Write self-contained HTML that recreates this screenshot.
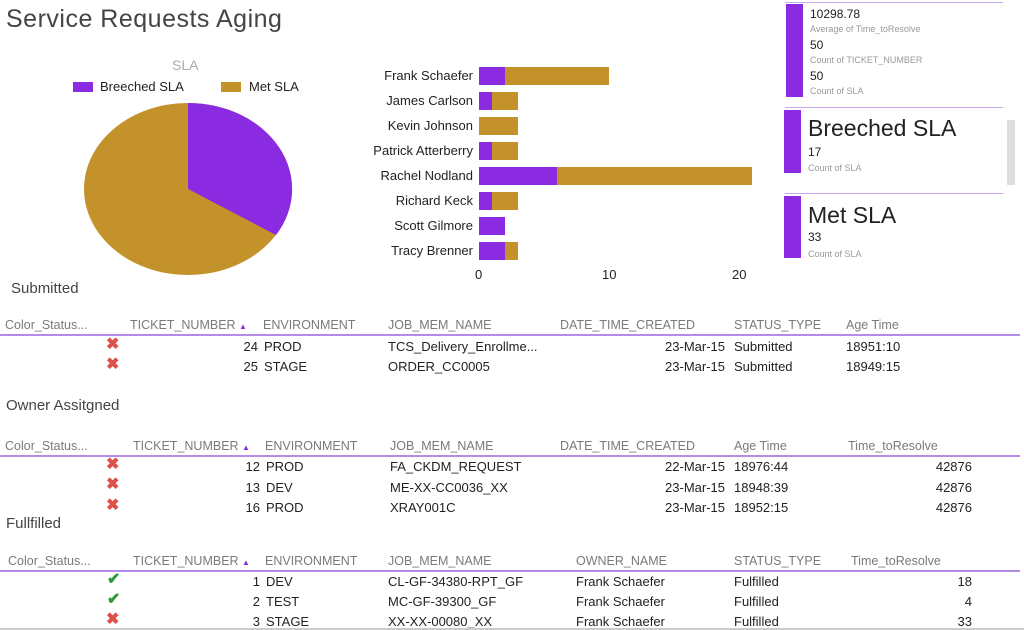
<!DOCTYPE html>
<html><head><style>
body{margin:0;width:1024px;height:630px;background:#fff;overflow:hidden;position:relative;font-family:"Liberation Sans",sans-serif;color:#222}
.a{position:absolute;white-space:nowrap;font-size:13px;line-height:14px}
.h{color:#7a7a7a;font-size:12.5px}
.r{text-align:right}
.x{color:#e0504a;font-weight:bold;font-size:16px}
.c{color:#2a9a3a;font-weight:bold;font-size:16px}
.ln{position:absolute;left:0;width:1020px;height:2px;background:#b48be6}
.bl{position:absolute;background:#8a2be2}
.s{color:#999;font-size:9px}
</style></head><body>
<div class="a" style="left:6px;top:5px;font-size:25px;line-height:28px;color:#444;letter-spacing:0.5px">Service Requests Aging</div>
<div class="a" style="left:172px;top:58px;color:#aaa;font-size:14px">SLA</div>
<div style="position:absolute;left:73px;top:82px;width:20px;height:10px;background:#8a2be2"></div>
<div class="a" style="left:100px;top:80px">Breeched SLA</div>
<div style="position:absolute;left:221px;top:82px;width:20px;height:10px;background:#c4922a"></div>
<div class="a" style="left:249px;top:80px">Met SLA</div>
<svg style="position:absolute;left:0;top:0" width="1024" height="630">
<ellipse cx="188" cy="189" rx="104" ry="86" fill="#c4922a"/>
<path d="M188 189 L188 103 A104 86 0 0 1 276 235 Z" fill="#8a2be2"/>
<g>
<rect x="479" y="67" width="26" height="18" fill="#8a2be2"/><rect x="505" y="67" width="104" height="18" fill="#c4922a"/>
<rect x="479" y="92" width="13" height="18" fill="#8a2be2"/><rect x="492" y="92" width="26" height="18" fill="#c4922a"/>
<rect x="479" y="117" width="39" height="18" fill="#c4922a"/>
<rect x="479" y="142" width="13" height="18" fill="#8a2be2"/><rect x="492" y="142" width="26" height="18" fill="#c4922a"/>
<rect x="479" y="167" width="78" height="18" fill="#8a2be2"/><rect x="557" y="167" width="195" height="18" fill="#c4922a"/>
<rect x="479" y="192" width="13" height="18" fill="#8a2be2"/><rect x="492" y="192" width="26" height="18" fill="#c4922a"/>
<rect x="479" y="217" width="26" height="18" fill="#8a2be2"/>
<rect x="479" y="242" width="26" height="18" fill="#8a2be2"/><rect x="505" y="242" width="13" height="18" fill="#c4922a"/>
</g>
</svg>
<div class="a r" style="right:551px;top:69px">Frank Schaefer</div>
<div class="a r" style="right:551px;top:94px">James Carlson</div>
<div class="a r" style="right:551px;top:119px">Kevin Johnson</div>
<div class="a r" style="right:551px;top:144px">Patrick Atterberry</div>
<div class="a r" style="right:551px;top:169px">Rachel Nodland</div>
<div class="a r" style="right:551px;top:194px">Richard Keck</div>
<div class="a r" style="right:551px;top:219px">Scott Gilmore</div>
<div class="a r" style="right:551px;top:244px">Tracy Brenner</div>
<div class="a" style="left:475px;top:268px">0</div>
<div class="a" style="left:602px;top:268px">10</div>
<div class="a" style="left:732px;top:268px">20</div>

<div style="position:absolute;left:785px;top:2px;width:218px;height:1px;background:#c8a8ee"></div>
<div class="bl" style="left:786px;top:4px;width:17px;height:93px"></div>
<div class="a" style="left:810px;top:7px;font-size:12px">10298.78</div>
<div class="a s" style="left:810px;top:22px">Average of Time_toResolve</div>
<div class="a" style="left:810px;top:38px;font-size:12px">50</div>
<div class="a s" style="left:810px;top:53px">Count of TICKET_NUMBER</div>
<div class="a" style="left:810px;top:69px;font-size:12px">50</div>
<div class="a s" style="left:810px;top:84px">Count of SLA</div>
<div style="position:absolute;left:785px;top:107px;width:218px;height:1px;background:#c8a8ee"></div>
<div class="bl" style="left:784px;top:110px;width:17px;height:63px"></div>
<div class="a" style="left:808px;top:115px;font-size:23px;line-height:26px">Breeched SLA</div>
<div class="a" style="left:808px;top:145px;font-size:12px">17</div>
<div class="a s" style="left:808px;top:161px">Count of SLA</div>
<div style="position:absolute;left:785px;top:193px;width:218px;height:1px;background:#c8a8ee"></div>
<div class="bl" style="left:784px;top:196px;width:17px;height:62px"></div>
<div class="a" style="left:808px;top:202px;font-size:23px;line-height:26px">Met SLA</div>
<div class="a" style="left:808px;top:230px;font-size:12px">33</div>
<div class="a s" style="left:808px;top:247px">Count of SLA</div>
<div style="position:absolute;left:1007px;top:120px;width:8px;height:65px;background:#ddd"></div>

<div class="a" style="left:11px;top:281px;font-size:15px;line-height:16px;color:#444">Submitted</div>
<div class="a h" style="left:5px;top:318px">Color_Status...</div>
<div class="a h" style="left:130px;top:318px">TICKET_NUMBER <span style="color:#8a2be2;font-size:8px">▲</span></div>
<div class="a h" style="left:263px;top:318px">ENVIRONMENT</div>
<div class="a h" style="left:388px;top:318px">JOB_MEM_NAME</div>
<div class="a h" style="left:560px;top:318px">DATE_TIME_CREATED</div>
<div class="a h" style="left:734px;top:318px">STATUS_TYPE</div>
<div class="a h" style="left:846px;top:318px">Age Time</div>
<div class="ln" style="top:334px"></div>
<div class="a x" style="left:106px;top:338px">✖</div><div class="a r" style="right:766px;top:340px">24</div><div class="a" style="left:264px;top:340px">PROD</div><div class="a" style="left:388px;top:340px">TCS_Delivery_Enrollme...</div><div class="a r" style="right:299px;top:340px">23-Mar-15</div><div class="a" style="left:734px;top:340px">Submitted</div><div class="a" style="left:846px;top:340px">18951:10</div>
<div class="a x" style="left:106px;top:358px">✖</div><div class="a r" style="right:766px;top:360px">25</div><div class="a" style="left:264px;top:360px">STAGE</div><div class="a" style="left:388px;top:360px">ORDER_CC0005</div><div class="a r" style="right:299px;top:360px">23-Mar-15</div><div class="a" style="left:734px;top:360px">Submitted</div><div class="a" style="left:846px;top:360px">18949:15</div>

<div class="a" style="left:6px;top:398px;font-size:15px;line-height:16px;color:#444">Owner Assitgned</div>
<div class="a h" style="left:5px;top:439px">Color_Status...</div>
<div class="a h" style="left:133px;top:439px">TICKET_NUMBER <span style="color:#8a2be2;font-size:8px">▲</span></div>
<div class="a h" style="left:265px;top:439px">ENVIRONMENT</div>
<div class="a h" style="left:390px;top:439px">JOB_MEM_NAME</div>
<div class="a h" style="left:560px;top:439px">DATE_TIME_CREATED</div>
<div class="a h" style="left:734px;top:439px">Age Time</div>
<div class="a h" style="left:848px;top:439px">Time_toResolve</div>
<div class="ln" style="top:455px"></div>
<div class="a x" style="left:106px;top:458px">✖</div><div class="a r" style="right:764px;top:460px">12</div><div class="a" style="left:266px;top:460px">PROD</div><div class="a" style="left:390px;top:460px">FA_CKDM_REQUEST</div><div class="a r" style="right:299px;top:460px">22-Mar-15</div><div class="a" style="left:734px;top:460px">18976:44</div><div class="a r" style="right:52px;top:460px">42876</div>
<div class="a x" style="left:106px;top:478px">✖</div><div class="a r" style="right:764px;top:481px">13</div><div class="a" style="left:266px;top:481px">DEV</div><div class="a" style="left:390px;top:481px">ME-XX-CC0036_XX</div><div class="a r" style="right:299px;top:481px">23-Mar-15</div><div class="a" style="left:734px;top:481px">18948:39</div><div class="a r" style="right:52px;top:481px">42876</div>
<div class="a x" style="left:106px;top:499px">✖</div><div class="a r" style="right:764px;top:501px">16</div><div class="a" style="left:266px;top:501px">PROD</div><div class="a" style="left:390px;top:501px">XRAY001C</div><div class="a r" style="right:299px;top:501px">23-Mar-15</div><div class="a" style="left:734px;top:501px">18952:15</div><div class="a r" style="right:52px;top:501px">42876</div>

<div class="a" style="left:6px;top:516px;font-size:15px;line-height:16px;color:#444">Fullfilled</div>
<div class="a h" style="left:8px;top:554px">Color_Status...</div>
<div class="a h" style="left:133px;top:554px">TICKET_NUMBER <span style="color:#8a2be2;font-size:8px">▲</span></div>
<div class="a h" style="left:265px;top:554px">ENVIRONMENT</div>
<div class="a h" style="left:388px;top:554px">JOB_MEM_NAME</div>
<div class="a h" style="left:576px;top:554px">OWNER_NAME</div>
<div class="a h" style="left:734px;top:554px">STATUS_TYPE</div>
<div class="a h" style="left:851px;top:554px">Time_toResolve</div>
<div class="ln" style="top:570px"></div>
<div class="a c" style="left:107px;top:573px">✔</div><div class="a r" style="right:764px;top:575px">1</div><div class="a" style="left:266px;top:575px">DEV</div><div class="a" style="left:388px;top:575px">CL-GF-34380-RPT_GF</div><div class="a" style="left:576px;top:575px">Frank Schaefer</div><div class="a" style="left:734px;top:575px">Fulfilled</div><div class="a r" style="right:52px;top:575px">18</div>
<div class="a c" style="left:107px;top:593px">✔</div><div class="a r" style="right:764px;top:595px">2</div><div class="a" style="left:266px;top:595px">TEST</div><div class="a" style="left:388px;top:595px">MC-GF-39300_GF</div><div class="a" style="left:576px;top:595px">Frank Schaefer</div><div class="a" style="left:734px;top:595px">Fulfilled</div><div class="a r" style="right:52px;top:595px">4</div>
<div class="a x" style="left:106px;top:613px">✖</div><div class="a r" style="right:764px;top:615px">3</div><div class="a" style="left:266px;top:615px">STAGE</div><div class="a" style="left:388px;top:615px">XX-XX-00080_XX</div><div class="a" style="left:576px;top:615px">Frank Schaefer</div><div class="a" style="left:734px;top:615px">Fulfilled</div><div class="a r" style="right:52px;top:615px">33</div>
<div style="position:absolute;left:0;top:628px;width:1024px;height:2px;background:#ccc"></div>
</body></html>
